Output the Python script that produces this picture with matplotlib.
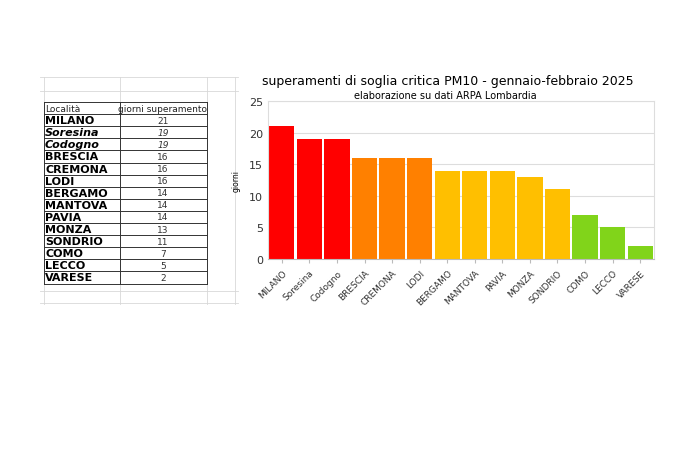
import matplotlib.pyplot as plt

cities = ["MILANO", "Soresina", "Codogno", "BRESCIA", "CREMONA", "LODI", "BERGAMO",
          "MANTOVA", "PAVIA", "MONZA", "SONDRIO", "COMO", "LECCO", "VARESE"]
giorni = [21, 19, 19, 16, 16, 16, 14, 14, 14, 13, 11, 7, 5, 2]
colors = ["#ff0000"] * 3 + ["#ff8000"] * 3 + ["#ffbf00"] * 5 + ["#81d41a"] * 3

W, H = 680, 460
fig = plt.figure(figsize=(6.8, 4.6), dpi=100)

# spreadsheet table drawn in pixel coordinates
tab = fig.add_axes([0, 0, 1, 1])
tab.set_xlim(0, W)
tab.set_ylim(H, 0)
tab.axis("off")
grid = "#d8d8d8"
for x in [44, 120, 207, 235]:
    tab.plot([x, x], [78, 305], color=grid, lw=0.6)
for y in [78, 92, 292, 304]:
    tab.plot([40, 238], [y, y], color=grid, lw=0.6)

top, rh = 103, 12.1
rows = [("Località", "giorni superamento")] + list(zip(cities, giorni))
for i, (name, val) in enumerate(rows):
    y0 = top + i * rh
    tab.plot([44, 207], [y0, y0], color="#333333", lw=0.7)
    yc = y0 + rh / 2
    if i == 0:
        tab.text(45, yc, name, fontsize=6.5, va="center", color="#222222")
        tab.text(163, yc, val, fontsize=6.5, va="center", ha="center", color="#222222")
    else:
        italic = name in ("Soresina", "Codogno")
        tab.text(45, yc, name, fontsize=8, va="center", fontweight="bold",
                 fontstyle="italic" if italic else "normal")
        tab.text(163, yc, str(val), fontsize=6.5, va="center", ha="center",
                 fontstyle="italic" if italic else "normal", color="#333333")
yb = top + len(rows) * rh
tab.plot([44, 207], [yb, yb], color="#333333", lw=0.7)
for x in [44, 120, 207]:
    tab.plot([x, x], [top, yb], color="#333333", lw=0.7)

# bar chart
ax = fig.add_axes([268 / W, 200 / H, 386 / W, 158 / H])
ax.bar(range(len(cities)), giorni, width=0.92, color=colors, zorder=2)
ax.set_xlim(-0.5, len(cities) - 0.5)
ax.set_ylim(0, 25)
ax.set_yticks(range(0, 26, 5))
ax.yaxis.grid(True, color="#dddddd", lw=0.8, zorder=0)
ax.set_xticks(range(len(cities)))
ax.set_xticklabels(cities, rotation=45, ha="right", rotation_mode="anchor", fontsize=6.5, color="#333333")
ax.tick_params(axis="y", labelsize=8, length=0, colors="#333333")
ax.tick_params(axis="x", length=3, color="#bbbbbb")
for s in ["top", "right", "left"]:
    ax.spines[s].set_color("#dddddd")
ax.spines["bottom"].set_color("#bbbbbb")
ax.set_ylabel("giorni", fontsize=5.5, labelpad=6)

fig.text(448 / W, 1 - 81 / H, "superamenti di soglia critica PM10 - gennaio-febbraio 2025",
         ha="center", va="center", fontsize=9)
fig.text(445 / W, 1 - 96 / H, "elaborazione su dati ARPA Lombardia",
         ha="center", va="center", fontsize=7)

fig.savefig("out.png", dpi=100)
